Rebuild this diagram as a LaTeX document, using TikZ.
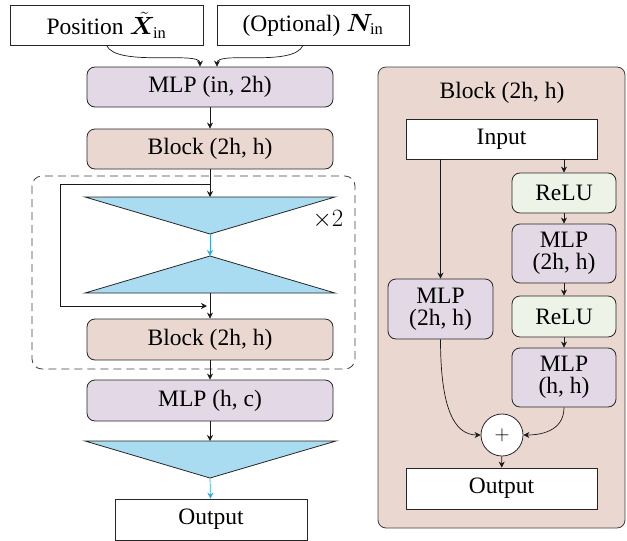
\documentclass[tikz,border=0pt]{standalone}
\usepackage{amsmath,bm}
\usepackage{fontspec}
\setmainfont{Liberation Serif}
\usetikzlibrary{arrows.meta}

\definecolor{mlpfill}{HTML}{E3D9E6}
\definecolor{blkfill}{HTML}{EAD8D0}
\definecolor{relufill}{HTML}{EEF3E8}
\definecolor{trifill}{HTML}{A9DCF1}
\definecolor{triline}{HTML}{2AABE2}

\begin{document}
\begin{tikzpicture}[x=1pt, y=-1pt, font=\fontsize{23.5}{22}\selectfont,
  plain/.style={draw=black!85, line width=0.8pt, fill=white, inner sep=0pt, align=center, minimum width=192, minimum height=40},
  mlp/.style={plain, fill=mlpfill, rounded corners=8, minimum width=246},
  blk/.style={plain, fill=blkfill, rounded corners=8, minimum width=246},
  inner/.style={plain, rounded corners=8, minimum width=104},
  tri/.style={draw=black!85, line width=0.8pt, fill=trifill},
  arr/.style={-{Stealth[length=6pt,width=6pt]}, line width=0.7pt, black!90},
  barr/.style={arr, triline}] 
\useasboundingbox (0,0) rectangle (627,541);
% left column
\node[plain, minimum width=193] (pos) at (106.5,25) {Position $\tilde{\bm{X}}_{\text{in}}$};
\node[plain] (nrm) at (313,25) {(Optional) $\bm{N}_{\text{in}}$};
\node[mlp] (mlpin) at (210,87) {MLP (in, 2h)};
\node[blk] (blk1) at (210,149) {Block (2h, h)};
\draw[draw=black!75, line width=0.8pt, dash pattern=on 8pt off 5pt, rounded corners=10] (32,176) rectangle (355,369);
\coordinate (t1c) at (210,197);
\coordinate (t1a) at (210,234);
\filldraw[tri] (85,197) -- (335,197) -- (t1a) -- cycle;
\coordinate (t2a) at (210,256);
\coordinate (t2b) at (210,293);
\filldraw[tri] (t2a) -- (335,293) -- (85,293) -- cycle;
\node[font=\fontsize{25}{25}\selectfont] (rep) at (328,220) {$\times 2$};
\node[blk, minimum height=41] (blk2) at (210,339.5) {Block (2h, h)};
\node[mlp, minimum height=41] (mlpout) at (210,400.5) {MLP (h, c)};
\coordinate (t3c) at (210,441);
\coordinate (t3a) at (210,478);
\filldraw[tri] (85,441) -- (336,441) -- (t3a) -- cycle;
\node[plain, minimum height=41] (out) at (211,519.5) {Output};

\draw[arr] (pos.south) .. controls +(10,22) and +(0,-16) .. ([xshift=-10]mlpin.north);
\draw[arr] ([xshift=-10]nrm.south) .. controls +(-10,22) and +(0,-16) .. ([xshift=7]mlpin.north);
\draw[arr] (mlpin) -- (blk1);
\draw[arr] (blk1) -- (t1c);
\coordinate (sk) at (210,184);
\coordinate (jn) at (210,306);
\draw[arr] (sk) -- (60,184) -- (60,306) -- ([xshift=-3]jn);
\draw[barr] (t1a) -- (t2a);
\draw[arr] (t2b) -- (blk2);
\draw[arr] (blk2) -- (mlpout);
\draw[arr] (mlpout) -- (t3c);
\draw[barr] (t3a) -- (out);

% block detail
\draw[draw=black!75, line width=0.8pt, fill=blkfill, rounded corners=8] (378,67) rectangle (625,528);
\node (ttl) at (502,93) {Block (2h, h)};
\node[plain, minimum width=191] (inp) at (501.5,139) {Input};
\node[inner, fill=relufill] (relu1) at (564,193) {ReLU};
\node[inner, fill=mlpfill, minimum height=59] (mlp1) at (564,253.5) {MLP\\(2h, h)};
\node[inner, fill=relufill, minimum height=41] (relu2) at (564,316.5) {ReLU};
\node[inner, fill=mlpfill, minimum height=59] (mlp2) at (564,377.5) {MLP\\(h, h)};
\node[inner, fill=mlpfill, minimum width=105, minimum height=60] (mlps) at (440.5,309) {MLP\\(2h, h)};
\node[shape=circle, draw=black!85, line width=0.8pt, fill=white, minimum size=42, inner sep=0pt, font=\fontsize{20}{20}\selectfont] (add) at (502,435) {$+$};
\node[plain, minimum width=191, minimum height=41] (outb) at (501.5,488.5) {Output};

\draw[arr] (inp.south -| relu1.north) -- (relu1);
\draw[arr] (inp.south -| mlps.north) -- (mlps);
\draw[arr] (relu1) -- (mlp1);
\draw[arr] (mlp1) -- (relu2);
\draw[arr] (relu2) -- (mlp2);
\draw[arr] (mlps.south) .. controls +(0,65) and +(-28,0) .. (add.west);
\draw[arr] (mlp2.south) .. controls +(0,25) and +(15,0) .. (add.east);
\draw[arr] (add) -- (outb);
\end{tikzpicture}
\end{document}
